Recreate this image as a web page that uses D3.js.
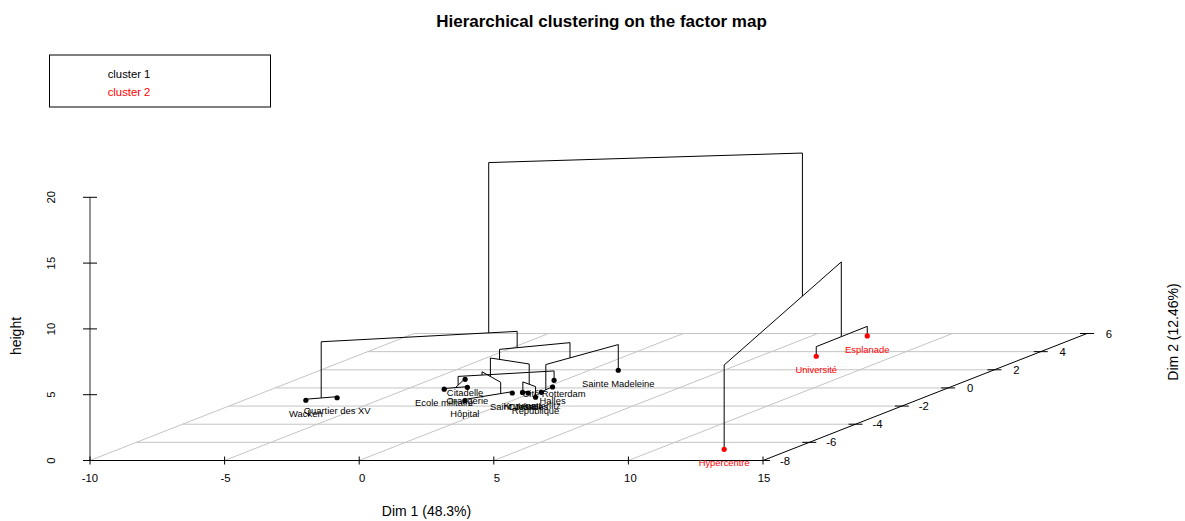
<!DOCTYPE html>
<html>
<head>
<meta charset="utf-8">
<script src="https://cdn.jsdelivr.net/npm/d3@7"></script>
<style>
html,body{margin:0;padding:0;background:#fff}
svg{display:block}
text{font-family:"Liberation Sans",Arial,sans-serif;fill:#000}
</style>
</head>
<body>
<div id="chart"></div>
<script>
const titleText = "Hierarchical clustering on the factor map";
const xLabel = "Dim 1 (48.3%)";
const yLabel = "Dim 2 (12.46%)";
const zLabel = "height";
const legendLabels = ["cluster 1", "cluster 2"];
const clusterColors = ["#000000", "#ff0000"];

const dim1Ticks = [-10, -5, 0, 5, 10, 15];
const dim2Ticks = [-8, -6, -4, -2, 0, 2, 4, 6];
const heightTicks = [0, 5, 10, 15, 20];

const leafNames = ["Wacken", "Quartier des XV", "Ecole militaire", "Orangerie", "Citadelle", "Hôpital",
  "Saint Jean", "Krutenau", "Contades", "République", "Austerlitz", "Halles", "Cité Rotterdam",
  "Sainte Madeleine", "Hypercentre", "Université", "Esplanade"];
const leafDim1 = [-7.69, -6.77, -3.60, -2.92, -3.76, -1.74, -0.71, -0.38, -0.12, 0.56, 0.30, 0.22, -0.36, 1.07, 12.50, 7.10, 7.07];
const leafDim2 = [-1.36, -1.08, -0.14, 0.07, 0.95, -1.41, -0.56, -0.50, -0.56, -1.03, -0.48, 0.10, 0.84, 1.95, -6.77, 3.49, 5.73];
const leafCluster = [0, 0, 0, 0, 0, 0, 0, 0, 0, 0, 0, 0, 0, 0, 1, 1, 1];

// merges: ids below 17 are leaves, ids from 17 upward are earlier merges
const mergeLeft  = [0, 2, 18, 19, 5, 20, 7, 23, 22, 10, 26, 25, 17, 15, 14, 29];
const mergeRight = [1, 3, 4, 12, 6, 21, 8, 9, 24, 11, 13, 27, 28, 16, 30, 31];
const mergeDim1  = [-7.24, -3.27, -3.41, -2.65, -0.96, -1.91, -0.36, 0.10, -1.44, 0.27, 0.54, -0.945, -1.86, 7.085, 8.89, 3.5];
const mergeDim2  = [-1.22, -0.04, 0.24, 0.39, -0.77, -0.11, -0.51, -0.77, -0.26, -0.25, 0.48, -0.075, -0.24, 4.59, 0.81, 0.3];
const mergeHeight = [0.08, 0.05, 0.05, 0.71, 0.10, 0.96, 0.03, 0.81, 2.35, 0.03, 1.95, 3.11, 4.35, 0.73, 6.41, 17.29];

const W = 1185, H = 521;
const svg = d3.select("#chart").append("svg").attr("width", W).attr("height", H);

// scatterplot3d style oblique projection
const xS = d3.scaleLinear().domain([-10, 15]).range([90, 763]);
const zS = d3.scaleLinear().domain([0, 20]).range([460.5, 197.3]);
const depthX = d3.scaleLinear().domain([-8, 6]).range([0, 324]);
const depthY = d3.scaleLinear().domain([-8, 6]).range([0, -127]);
const sx = (a, b) => xS(a) + depthX(b);
const sy = (b, h) => zS(h) + depthY(b);
const line = (g, x1, y1, x2, y2, col, w) => g.append("line")
  .attr("x1", x1).attr("y1", y1).attr("x2", x2).attr("y2", y2)
  .attr("stroke", col).attr("stroke-width", w);

// grid on the floor
const grid = svg.append("g");
dim2Ticks.forEach(b => { if (b > -8) line(grid, sx(-10, b), sy(b, 0), sx(15, b), sy(b, 0), "#c4c4c4", 1); });
dim1Ticks.forEach(a => { if (a < 15) line(grid, sx(a, -8), sy(-8, 0), sx(a, 6), sy(6, 0), "#c4c4c4", 1); });

// axes
const axes = svg.append("g");
const tickLabelNudge = [0, 1, 3, 3, 2, 1];
line(axes, 90, zS(0), 90, zS(20), "#707070", 1.5);
line(axes, xS(-10), zS(0), xS(15), zS(0), "#000", 1);
line(axes, sx(15, -8), sy(-8, 0), sx(15, 6), sy(6, 0), "#000", 1);
dim1Ticks.forEach((a, i) => {
  line(axes, xS(a), zS(0) - 4, xS(a), zS(0) + 4, "#000", 1);
  axes.append("text").attr("x", xS(a) + tickLabelNudge[i]).attr("y", 482).attr("text-anchor", "middle")
    .attr("font-size", 11.3).text(a);
});
heightTicks.forEach(h => {
  line(axes, 83, zS(h), 97, zS(h), "#000", 1);
  axes.append("text").attr("transform", `translate(55,${zS(h)}) rotate(-90)`)
    .attr("text-anchor", "middle").attr("font-size", 11.3).text(h);
});
dim2Ticks.forEach(b => {
  line(axes, sx(15, b) - 7, sy(b, 0), sx(15, b) + 7, sy(b, 0), "#000", 1);
  axes.append("text").attr("x", sx(15, b) + 22).attr("y", sy(b, 0) + 4).attr("text-anchor", "middle")
    .attr("font-size", 11.3).text(b);
});

// dendrogram
const nodeDim1 = leafDim1.concat(mergeDim1);
const nodeDim2 = leafDim2.concat(mergeDim2);
const nodeH = leafDim1.map(() => 0).concat(mergeHeight);
const tree = svg.append("g");
const lineGen = d3.line();
mergeHeight.forEach((h, i) => {
  const a = mergeLeft[i], b = mergeRight[i];
  tree.append("path").attr("fill", "none").attr("stroke", "#000").attr("stroke-width", 1)
    .attr("stroke-linejoin", "miter")
    .attr("d", lineGen([
      [sx(nodeDim1[a], nodeDim2[a]), sy(nodeDim2[a], nodeH[a])],
      [sx(nodeDim1[a], nodeDim2[a]), sy(nodeDim2[a], h)],
      [sx(nodeDim1[b], nodeDim2[b]), sy(nodeDim2[b], h)],
      [sx(nodeDim1[b], nodeDim2[b]), sy(nodeDim2[b], nodeH[b])]
    ]));
});

// points and their names
leafNames.forEach((name, i) => {
  const px = sx(leafDim1[i], leafDim2[i]), py = sy(leafDim2[i], 0);
  const col = clusterColors[leafCluster[i]];
  svg.append("circle").attr("cx", px).attr("cy", py).attr("r", 2.6).attr("fill", col);
  svg.append("text").attr("x", px).attr("y", py + 16.6).attr("text-anchor", "middle")
    .attr("font-size", 9.4).style("fill", col).text(name);
});

// legend
svg.append("rect").attr("x", 49.5).attr("y", 55).attr("width", 221).attr("height", 52)
  .attr("fill", "none").attr("stroke", "#000").attr("stroke-width", 1);
legendLabels.forEach((t, i) => {
  svg.append("text").attr("x", 107.7).attr("y", 78 + i * 18).attr("font-size", 11.3)
    .style("fill", clusterColors[i]).text(t);
});

// titles
svg.append("text").attr("x", 601.5).attr("y", 27).attr("text-anchor", "middle")
  .attr("font-size", 17).attr("font-weight", "bold").text(titleText);
svg.append("text").attr("x", 426.5).attr("y", 516).attr("text-anchor", "middle")
  .attr("font-size", 14).text(xLabel);
svg.append("text").attr("transform", "translate(20.5,336) rotate(-90)").attr("text-anchor", "middle")
  .attr("font-size", 14).text(zLabel);
svg.append("text").attr("transform", "translate(1178,332) rotate(-90)").attr("text-anchor", "middle")
  .attr("font-size", 14).text(yLabel);
</script>
</body>
</html>
